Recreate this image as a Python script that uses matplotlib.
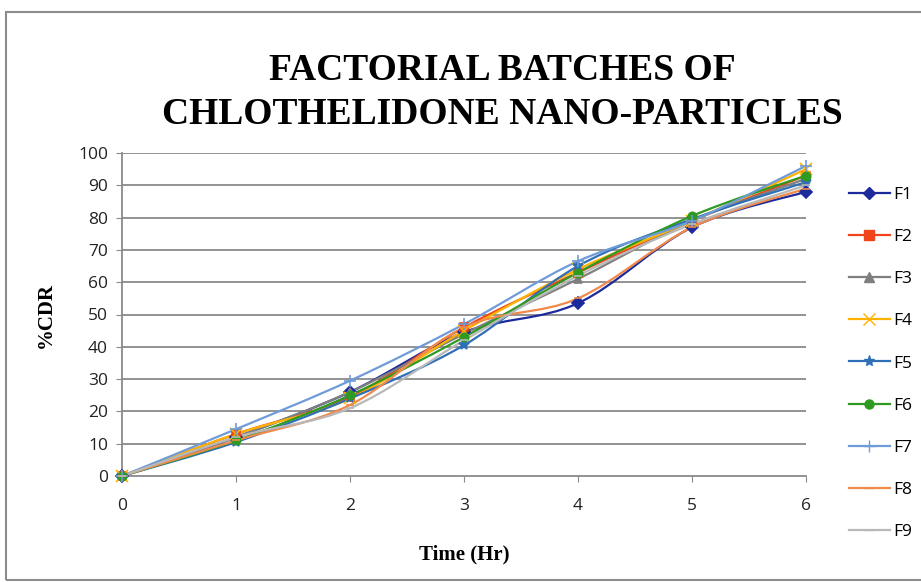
import numpy as np
import matplotlib
matplotlib.use("Agg")
import matplotlib.pyplot as plt
from matplotlib.path import Path
from matplotlib.patches import PathPatch, Rectangle
from matplotlib.lines import Line2D

# time points (hours)
time_hr = [0, 1, 2, 3, 4, 5, 6]

# %CDR for each batch
F1 = [0, 12.0, 26.0, 44.5, 53.5, 77.0, 88.0]
F2 = [0, 13.0, 24.5, 46.0, 63.0, 79.0, 93.0]
F3 = [0, 12.0, 26.0, 44.0, 61.0, 79.0, 92.0]
F4 = [0, 13.0, 24.0, 45.0, 64.0, 79.0, 95.0]
F5 = [0, 10.5, 24.0, 40.5, 65.0, 79.5, 91.0]
F6 = [0, 11.0, 25.0, 43.0, 63.0, 80.5, 93.0]
F7 = [0, 14.5, 29.5, 47.0, 66.5, 79.0, 96.0]
F8 = [0, 11.0, 22.0, 46.0, 55.0, 77.0, 89.0]
F9 = [0, 12.0, 21.0, 42.0, 62.0, 78.0, 90.0]

names = ["F1", "F2", "F3", "F4", "F5", "F6", "F7", "F8", "F9"]
series = [F1, F2, F3, F4, F5, F6, F7, F8, F9]
colors = ["#1c2a9c", "#f0441a", "#7f7f7f", "#ffb300", "#2e6fb8",
          "#2f9a22", "#6f9bd8", "#f08a4b", "#b8b8b8"]
markers = ["D", "s", "^", "x", "*", "o", "+", "_", "_"]


def smooth_path(x, y):
    # Excel-style smoothed line: cubic bezier through every point
    x = np.asarray(x, float)
    y = np.asarray(y, float)
    pts = np.column_stack([x, y])
    n = len(pts)
    verts = [pts[0]]
    codes = [Path.MOVETO]
    for i in range(n - 1):
        p0 = pts[max(i - 1, 0)]
        p1 = pts[i]
        p2 = pts[i + 1]
        p3 = pts[min(i + 2, n - 1)]
        c1 = p1 + (p2 - p0) / 6.0
        c2 = p2 - (p3 - p1) / 6.0
        verts += [c1, c2, p2]
        codes += [Path.CURVE4] * 3
    return Path(verts, codes)


fig = plt.figure(figsize=(9.21, 5.82), dpi=100)
fig.patch.set_facecolor("white")

# outer chart border
fig.patches.append(Rectangle((6 / 921, 2 / 582), 1.0, 1 - 14 / 582,
                             transform=fig.transFigure, fill=False,
                             edgecolor="#8c8c8c", linewidth=1.5))

ax = fig.add_axes([122 / 921, 1 - 476 / 582, (806 - 122) / 921, (476 - 153) / 582])

for yv in range(10, 101, 10):
    ax.axhline(yv, color="#8a8a8a", linewidth=1.3, zorder=1)

for s, c, m, name in zip(series, colors, markers, names):
    ax.add_patch(PathPatch(smooth_path(time_hr, s), fill=False,
                           edgecolor=c, linewidth=1.6, zorder=2))
    ms = 8 if m in ("x", "*", "+") else 6
    ax.plot(time_hr, s, linestyle="none", marker=m, color=c,
            markersize=ms, markeredgewidth=1.2, clip_on=False, zorder=3)

ax.set_xlim(0, 6)
ax.set_ylim(0, 100)
ax.set_xticks(time_hr)
ax.set_yticks(range(0, 101, 10))
for sp in ["top", "right"]:
    ax.spines[sp].set_visible(False)
ax.spines["left"].set_color("#8a8a8a")
ax.spines["bottom"].set_color("#8a8a8a")
ax.spines["left"].set_linewidth(1.3)
ax.spines["bottom"].set_linewidth(1.3)
ax.tick_params(axis="both", length=4, color="#8a8a8a", labelsize=12.5,
               labelcolor="#222222")
ax.tick_params(axis="y", pad=6)
ax.tick_params(axis="x", pad=12)
for lab in ax.get_xticklabels() + ax.get_yticklabels():
    lab.set_fontfamily("Open Sans")

ax.set_xlabel("Time (Hr)", fontsize=15, fontweight="bold",
              family="Liberation Serif", labelpad=22)
ax.set_ylabel("%CDR", fontsize=15, fontweight="bold",
              family="Liberation Serif", labelpad=16)

fig.text(0.545, 1 - 70 / 582, "FACTORIAL BATCHES OF", ha="center", va="center",
         fontsize=27, fontweight="bold", family="Liberation Serif")
fig.text(0.545, 1 - 115 / 582, "CHLOTHELIDONE NANO-PARTICLES", ha="center",
         va="center", fontsize=27, fontweight="bold", family="Liberation Serif")

handles = [Line2D([], [], color=c, marker=m, linewidth=1.6,
                  markersize=(8 if m in ("x", "*", "+") else 6.5))
           for c, m in zip(colors, markers)]
leg = fig.legend(handles, names, loc="upper left",
                 bbox_to_anchor=(833 / 921, 1 - 171 / 582), frameon=False,
                 handlelength=2.4, handletextpad=0.15, labelspacing=1.5,
                 prop={"family": "Open Sans", "size": 12.5})

plt.savefig("out.png", dpi=100)
